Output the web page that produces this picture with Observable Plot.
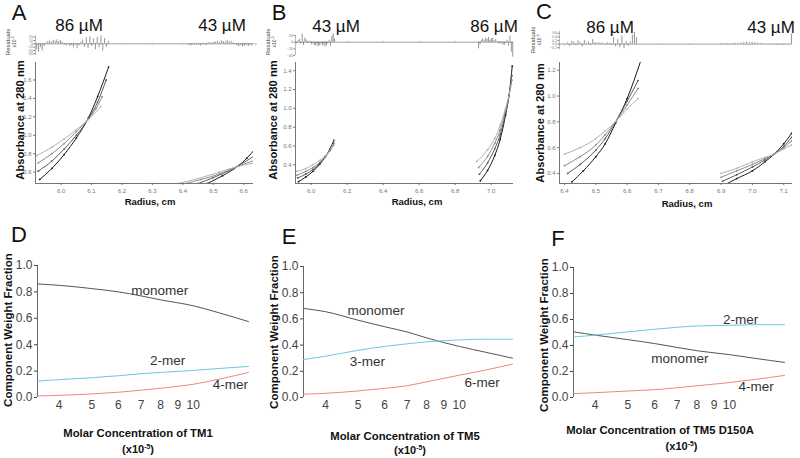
<!DOCTYPE html>
<html><head><meta charset="utf-8">
<script src="https://cdn.jsdelivr.net/npm/d3@7"></script>
<script src="https://cdn.jsdelivr.net/npm/@observablehq/plot@0.6"></script>
<style>
body{margin:0;background:#fff;}
#root{position:relative;width:800px;height:458px;overflow:hidden;font-family:"Liberation Sans",Arial,Helvetica,sans-serif;}
.t{position:absolute;white-space:nowrap;line-height:1;}
.t sup{font-size:0.62em;vertical-align:0.55em;line-height:0;}
</style></head><body><div id="root"></div>
<script>
// ---------- DATA: top row (absorbance vs radius), 4 scans per cell ----------
const A86_1 = [[5.93,0.52],[5.97,0.64],[6.01,0.79],[6.05,0.97],[6.09,1.19],[6.12,1.42],[6.156,1.74]];
const A86_2 = [[5.925,0.61],[5.97,0.72],[6.01,0.85],[6.05,1.00],[6.09,1.18],[6.12,1.36],[6.148,1.60]];
const A86_3 = [[5.925,0.70],[5.97,0.80],[6.01,0.91],[6.05,1.04],[6.09,1.18],[6.115,1.29],[6.135,1.42]];
const A86_4 = [[5.92,0.78],[5.97,0.87],[6.01,0.96],[6.05,1.06],[6.09,1.17],[6.13,1.31]];
const A43_1 = [[6.42,0.38],[6.48,0.476],[6.53,0.56],[6.583,0.67],[6.61,0.75],[6.637,0.85]];
const A43_2 = [[6.42,0.44],[6.45,0.476],[6.50,0.54],[6.583,0.67],[6.637,0.78]];
const A43_3 = [[6.41,0.476],[6.46,0.52],[6.52,0.58],[6.583,0.665],[6.637,0.73]];
const A43_4 = [[6.39,0.48],[6.45,0.53],[6.52,0.60],[6.583,0.665],[6.637,0.70]];

const B43_1 = [[5.93,0.22],[5.97,0.27],[6.01,0.33],[6.05,0.41],[6.08,0.49],[6.105,0.57],[6.126,0.66]];
const B43_2 = [[5.925,0.26],[5.97,0.30],[6.01,0.35],[6.05,0.42],[6.08,0.49],[6.105,0.56],[6.125,0.63]];
const B43_3 = [[5.922,0.29],[5.97,0.33],[6.01,0.37],[6.05,0.43],[6.08,0.49],[6.105,0.55],[6.125,0.61]];
const B43_4 = [[5.92,0.33],[5.97,0.36],[6.01,0.40],[6.05,0.45],[6.08,0.50],[6.11,0.57],[6.13,0.66]];
const B86_1 = [[6.94,0.23],[6.98,0.34],[7.02,0.50],[7.05,0.67],[7.08,0.93],[7.10,1.15],[7.117,1.45]];
const B86_2 = [[6.935,0.30],[6.98,0.42],[7.02,0.57],[7.05,0.72],[7.08,0.95],[7.10,1.14],[7.115,1.35]];
const B86_3 = [[6.93,0.37],[6.98,0.49],[7.02,0.63],[7.05,0.77],[7.08,0.98],[7.10,1.15],[7.115,1.30]];
const B86_4 = [[6.92,0.435],[6.98,0.56],[7.02,0.68],[7.05,0.82],[7.08,1.00],[7.10,1.15],[7.112,1.25]];

const C86_1 = [[6.424,0.335],[6.46,0.42],[6.50,0.53],[6.53,0.63],[6.563,0.79],[6.60,0.98],[6.643,1.27]];
const C86_2 = [[6.41,0.40],[6.45,0.47],[6.50,0.58],[6.53,0.67],[6.563,0.80],[6.60,0.96],[6.635,1.12]];
const C86_3 = [[6.40,0.46],[6.45,0.53],[6.50,0.62],[6.53,0.70],[6.563,0.80],[6.60,0.93],[6.635,1.06]];
const C86_4 = [[6.40,0.55],[6.45,0.60],[6.50,0.67],[6.53,0.73],[6.563,0.80],[6.60,0.90],[6.635,0.98]];
const C43_1 = [[6.91,0.31],[6.95,0.36],[7.00,0.42],[7.04,0.49],[7.07,0.55],[7.10,0.63],[7.125,0.71]];
const C43_2 = [[6.905,0.34],[6.95,0.39],[7.00,0.45],[7.04,0.505],[7.07,0.55],[7.10,0.61],[7.125,0.68]];
const C43_3 = [[6.90,0.37],[6.95,0.42],[7.00,0.47],[7.04,0.515],[7.07,0.55],[7.10,0.60],[7.125,0.65]];
const C43_4 = [[6.90,0.40],[6.95,0.44],[7.00,0.49],[7.04,0.525],[7.07,0.55],[7.10,0.59],[7.125,0.62]];

// residuals (x10^-3), evenly spaced scans across each cell's radial range
const resA86 = {start:5.92, end:6.155, values:[-18,-25,-12,-22,-8,3,6,9,5,11,8,12,7,10,4,-3,-6,-2,-8,-5,-12,-4,-15,-6,5,12,-10,18,-14,22,-8,15,-18,20,-12,24,-22,16,-10,8]};
const resA43 = {start:6.42, end:6.64, values:[-4,-6,-3,-5,2,-4,-6,-3,-2,-5,3,4,2,5,6,8,4,9,7,5,10,6,8,3,-2,-6,-9,-5,-10,-7,-3,-8,-4,-6,-2,-5]};
const resB43 = {start:5.92, end:6.13, values:[-5,4,8,-6,24,-10,12,6,-4,3,-2,-8,-5,-10,-12,-8,-14,-10,-6,-12,-8,-15,-10,-5,6,-12,18,26,10]};
const resB86 = {start:6.93, end:7.12, values:[-20,-8,6,10,4,12,8,14,6,10,12,4,8,2,-4,-6,2,-8,-10,-4,6,-12,18,-30,-45]};
const resC86 = {start:6.41, end:6.63, values:[0.08,-0.12,0.15,0.12,-0.08,0.18,0.08,-0.15,0.2,0.05,0.12,-0.08,0.25,0.08,0.05,0.08,0.06,0.04,-0.04,0.08,0.04,-0.08,0.35,-0.15,0.25,-0.2,0.45,-0.25,0.15,-0.12,0.12,0.5,0.65,0.35]};
const resC43 = {start:6.9, end:7.125, values:[0.02,0.03,0.04,0.02,0.03,0.05,0.04,0.06,0.08,0.1,0.08,0.1,0.08,0.06,0.04,0.02,0.0,-0.02,-0.03,-0.04,-0.05,-0.04,-0.03,-0.02,-0.02,0.55]};

const radTicksA = [6.0,6.1,6.2,6.3,6.4,6.5,6.6];
const absTicksA = [0.6,0.8,1.0,1.2,1.4,1.6];
const radTicksB = [6.0,6.2,6.4,6.6,6.8,7.0];
const absTicksB = [0.4,0.6,0.8,1.0,1.2,1.4];
const radTicksC = [6.4,6.5,6.6,6.7,6.8,6.9,7.0,7.1];
const absTicksC = [0.4,0.6,0.8,1.0,1.2];
const resTicksA = [-30,-20,-10,0,10,20];
const resTicksB = [-40,-20,0,20];
const resTicksC = [-0.2,0,0.2,0.4,0.6];

// ---------- DATA: bottom row (weight fraction vs molar concentration, x10^-5) ----------
const concTicks = [4,5,6,7,8,9,10];
const fracTicks = [0,0.2,0.4,0.6,0.8,1.0];
const D_monomer = [[3.45,0.86],[4,0.85],[5,0.825],[6,0.80],[7,0.77],[8,0.74],[10,0.695],[12,0.64],[14.6,0.575]];
const D_2mer    = [[3.45,0.125],[4,0.135],[5,0.15],[6,0.165],[7,0.18],[8,0.19],[10,0.205],[12,0.22],[14.6,0.235]];
const D_4mer    = [[3.45,0.012],[4,0.016],[5,0.027],[6,0.04],[7,0.055],[8,0.07],[10,0.10],[12,0.14],[14.6,0.19]];
const E_monomer = [[3.44,0.68],[4,0.655],[5,0.59],[6,0.54],[7,0.50],[8,0.455],[10,0.39],[12,0.345],[14.4,0.30]];
const E_3mer    = [[3.44,0.29],[4,0.315],[5,0.36],[6,0.39],[7,0.41],[8,0.425],[10,0.44],[12,0.445],[14.4,0.445]];
const E_6mer    = [[3.44,0.025],[4,0.032],[5,0.05],[6,0.07],[7,0.09],[8,0.12],[10,0.17],[12,0.21],[14.4,0.255]];
const F_2mer    = [[3.45,0.465],[4,0.48],[5,0.505],[6,0.525],[7,0.54],[8,0.55],[10,0.555],[12,0.56],[14.56,0.56]];
const F_monomer = [[3.45,0.505],[4,0.48],[5,0.445],[6,0.415],[7,0.385],[8,0.36],[10,0.33],[12,0.30],[14.56,0.27]];
const F_4mer    = [[3.45,0.03],[4,0.037],[5,0.05],[6,0.06],[7,0.075],[8,0.09],[10,0.115],[12,0.14],[14.56,0.17]];
const D_labels = [{t:"monomer",x:7.96,y:0.81},{t:"2-mer",x:8.4,y:0.28},{t:"4-mer",x:12.9,y:0.10}];
const E_labels = [{t:"monomer",x:5.65,y:0.66},{t:"3-mer",x:5.33,y:0.27},{t:"6-mer",x:11.7,y:0.117}];
const F_labels = [{t:"2-mer",x:10.8,y:0.60},{t:"monomer",x:7.13,y:0.30},{t:"4-mer",x:12.0,y:0.08}];

// ---------- STYLE ----------
const FONT = '"Liberation Sans", Arial, Helvetica, sans-serif';
const SHADES = ["#1a1a1a","#5a5a5a","#8c8c8c","#b4b4b4"];
const C_MONO = "#555555", C_BLUE = "#6cc8de", C_RED = "#f08582";

const root = document.getElementById("root");
function addText(html, x, y, size, o = {}) {
  const d = document.createElement("div");
  d.className = "t";
  d.innerHTML = html;
  d.style.left = x + "px"; d.style.top = y + "px";
  d.style.fontSize = size + "px";
  d.style.fontWeight = o.bold ? "bold" : "normal";
  d.style.color = o.color || "#111";
  d.style.transform = "translate(-50%,-50%)" + (o.rotate ? " rotate(-90deg)" : "");
  root.appendChild(d);
}
function panel(frame, m, opts) {
  const [l, t, r, b] = frame, [mt, mr, mb, ml] = m;
  const {style, ...rest} = opts;
  const svg = Plot.plot({
    width: r - l + ml + mr, height: b - t + mt + mb,
    marginTop: mt, marginRight: mr, marginBottom: mb, marginLeft: ml,
    style: {fontFamily: FONT, background: "transparent", overflow: "visible", ...style},
    ...rest
  });
  svg.style.position = "absolute";
  svg.style.left = (l - ml) + "px";
  svg.style.top = (t - mt) + "px";
  root.appendChild(svg);
}
const f1 = d => d.toFixed(1);
function absPanel(frame, xdom, ydom, xt, yt, curves) {
  panel(frame, [4, 6, 26, 28], {
    style: {fontSize: "6px", color: "#777"},
    x: {domain: xdom, ticks: xt, tickFormat: f1, tickSize: 2, tickPadding: 3, label: null},
    y: {domain: ydom, ticks: yt, tickFormat: f1, tickSize: 2, tickPadding: 2, label: null},
    marks: [
      Plot.ruleX([xdom[0]], {stroke: "#555", strokeWidth: 0.8}),
      Plot.ruleY([ydom[0]], {stroke: "#555", strokeWidth: 0.8}),
      ...curves.map((c, i) => Plot.line(c, {x: d => d[0], y: d => d[1], stroke: SHADES[i % 4], strokeWidth: 1, curve: "monotone-x", clip: true})),
      ...curves.map((c, i) => Plot.dot(c, {x: d => d[0], y: d => d[1], r: 0.9, fill: SHADES[i % 4], stroke: null, clip: true}))
    ]
  });
}
function resPanel(frame, xdom, ydom, xt, yt, blocks, tl) {
  const rows = blocks.flatMap(b => b.values.map((v, i) => ({x: b.start + i * (b.end - b.start) / (b.values.length - 1), v})));
  panel(frame, [3, 6, 3, 28], {
    style: {fontSize: "3.5px", color: "#777"},
    x: {domain: xdom, axis: null},
    y: {domain: ydom, ticks: yt, tickSize: 1.5, tickPadding: 1, label: null},
    marks: [
      Plot.ruleX([xdom[0]], {stroke: "#888", strokeWidth: 0.6}),
      Plot.ruleY([0], {stroke: "#777", strokeWidth: 0.7}),
      Plot.ruleX(xt, {y1: -tl, y2: tl, stroke: "#999", strokeWidth: 0.5}),
      Plot.ruleX(rows, {x: "x", y1: 0, y2: "v", stroke: "#666", strokeWidth: 0.7})
    ]
  });
}
function fracPanel(frame, xdom, series, labels) {
  panel(frame, [8, 12, 20, 36], {
    style: {fontSize: "12px", color: "#444"},
    x: {type: "log", domain: xdom, ticks: concTicks, tickFormat: d => String(d), tickSize: 0, tickPadding: 3, label: null},
    y: {domain: [0, 1], ticks: fracTicks, tickFormat: f1, tickSize: 3, tickPadding: 2, label: null},
    marks: [
      Plot.ruleX([xdom[0]], {stroke: "#666", strokeWidth: 1}),
      ...series.map(([arr, col]) => Plot.line(arr, {x: d => d[0], y: d => d[1], stroke: col, strokeWidth: 1, curve: "monotone-x"})),
      Plot.text(labels, {x: "x", y: "y", text: "t", fontSize: 13.5, fill: "#333", textAnchor: "middle"})
    ]
  });
}

// ---------- TOP ROW ----------
absPanel([35, 62, 253, 183], [5.916, 6.632], [0.476, 1.79], radTicksA, absTicksA,
  [A86_1, A86_2, A86_3, A86_4, A43_1, A43_2, A43_3, A43_4]);
absPanel([295, 62, 513, 183], [5.913, 7.124], [0.201, 1.488], radTicksB, absTicksB,
  [B43_1, B43_2, B43_3, B43_4, B86_1, B86_2, B86_3, B86_4]);
absPanel([559, 62, 792, 183], [6.384, 7.128], [0.322, 1.26], radTicksC, absTicksC,
  [C86_1, C86_2, C86_3, C86_4, C43_1, C43_2, C43_3, C43_4]);

resPanel([35, 35, 253, 55], [5.916, 6.632], [-35, 25], radTicksA, resTicksA, [resA86, resA43], 2);
resPanel([295, 35, 513, 55], [5.913, 7.124], [-40, 20], radTicksB, resTicksB, [resB43, resB86], 2.5);
resPanel([559, 31, 792, 49], [6.384, 7.128], [-0.3, 0.7], radTicksC, resTicksC, [resC86, resC43], 0.035);

// ---------- BOTTOM ROW ----------
fracPanel([37, 265, 248, 397], [3.45, 14.6], [[D_monomer, C_MONO], [D_2mer, C_BLUE], [D_4mer, C_RED]], D_labels);
fracPanel([303, 266, 512, 397], [3.44, 14.4], [[E_monomer, C_MONO], [E_3mer, C_BLUE], [E_6mer, C_RED]], E_labels);
fracPanel([573, 267, 784, 397], [3.45, 14.56], [[F_monomer, C_MONO], [F_2mer, C_BLUE], [F_4mer, C_RED]], F_labels);

// ---------- TEXT ----------
addText("A", 19, 13, 22); addText("B", 279, 13, 22); addText("C", 544, 12, 22);
addText("D", 19, 235, 22); addText("E", 289, 236.5, 22); addText("F", 558, 239, 22);
addText("86 µM", 79, 25, 17); addText("43 µM", 222, 25, 17);
addText("43 µM", 336, 26, 17); addText("86 µM", 494, 26, 17);
addText("86 µM", 610, 27, 17); addText("43 µM", 771, 27, 17);
for (const [x, y] of [[8, 42], [268, 42], [533, 40]]) {
  addText("Residuals", x, y, 6, {rotate: true, color: "#444"});
  addText("x10<sup>-3</sup>", x + 6, y, 5, {rotate: true, color: "#444"});
}
addText("Absorbance at 280 nm", 21, 120, 11.2, {bold: true, rotate: true});
addText("Absorbance at 280 nm", 273.5, 120, 11.2, {bold: true, rotate: true});
addText("Absorbance at 280 nm", 541, 123, 11.2, {bold: true, rotate: true});
addText("Radius, cm", 150, 202, 9.5, {bold: true});
addText("Radius, cm", 417, 202, 9.5, {bold: true});
addText("Radius, cm", 687, 204, 9.5, {bold: true});
addText("Component Weight Fraction", 8.5, 330, 11.5, {bold: true, rotate: true});
addText("Component Weight Fraction", 275, 332, 11.5, {bold: true, rotate: true});
addText("Component Weight Fraction", 545, 335, 11.5, {bold: true, rotate: true});
addText("Molar Concentration of TM1", 138, 433.5, 11.3, {bold: true});
addText("(x10<sup>-5</sup>)", 138, 448.5, 11, {bold: true});
addText("Molar Concentration of TM5", 405, 436.5, 11.3, {bold: true});
addText("(x10<sup>-5</sup>)", 410, 449.5, 11, {bold: true});
addText("Molar Concentration of TM5 D150A", 660, 431, 11.3, {bold: true});
addText("(x10<sup>-5</sup>)", 681.5, 445.5, 11, {bold: true});
</script></body></html>
